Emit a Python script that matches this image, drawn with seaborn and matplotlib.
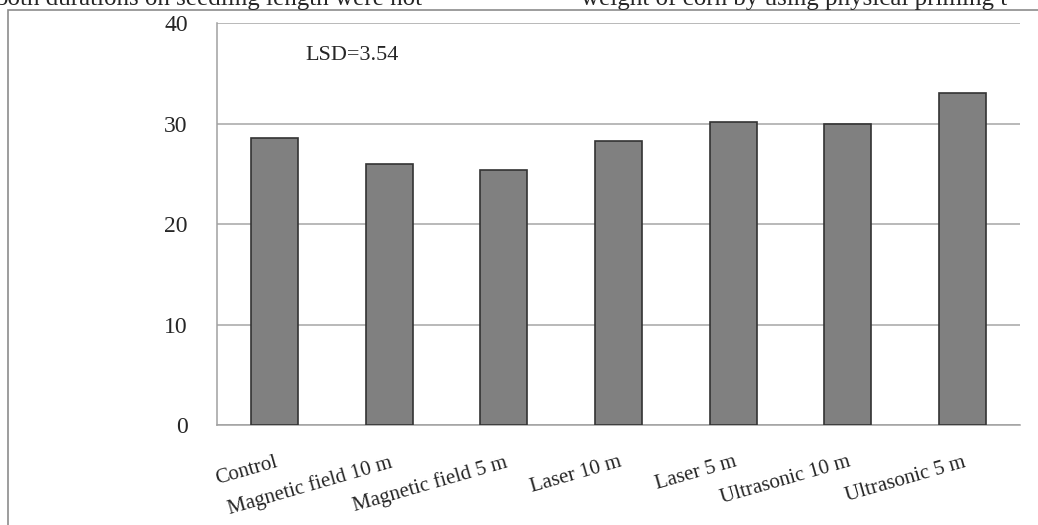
import matplotlib
matplotlib.use('Agg')
import matplotlib.pyplot as plt
import seaborn as sns
import pandas as pd
from matplotlib.patches import Rectangle

# dados
tratamentos = ["Control", "Magnetic field 10 m", "Magnetic field 5 m", "Laser 10 m",
               "Laser 5 m", "Ultrasonic 10 m", "Ultrasonic 5 m"]
valores = [28.6, 26.0, 25.4, 28.3, 30.2, 30.0, 33.0]
texto_lsd = "LSD=3.54"
y_ticks = [0, 10, 20, 30, 40]

sns.set_style("white")
plt.rcParams['font.family'] = ['Liberation Serif', 'DejaVu Serif']

df = pd.DataFrame({"tratamento": tratamentos, "valor": valores})

fig = plt.figure(figsize=(10.38, 5.25), dpi=100)
ax = fig.add_axes([0.209, 0.1905, 0.7737, 0.7655])

sns.barplot(data=df, x="tratamento", y="valor", color="#808080", saturation=1,
            width=0.41, edgecolor="#333333", linewidth=1.2, ax=ax, zorder=3)

ax.set_ylim(0, 40)
ax.set_xlim(-0.5, len(tratamentos) - 0.5)
ax.set_yticks(y_ticks)
ax.set_yticklabels([str(v) for v in y_ticks], fontsize=17)
ax.yaxis.grid(True, color="#a6a6a6", linewidth=1.1, zorder=0)
ax.set_axisbelow(True)
ax.set_xlabel("")
ax.set_ylabel("")

# rotulos inclinados estilo Excel
ax.set_xticks(range(len(tratamentos)))
ax.set_xticklabels(tratamentos, fontsize=15, rotation=16, ha="right",
                   rotation_mode="anchor")
ax.tick_params(axis="x", which="major", length=0, pad=20)
ax.set_xticks([i - 0.5 for i in range(len(tratamentos) + 1)], minor=True)
ax.tick_params(axis="x", which="minor", length=6, color="#a0a0a0", direction="out")
ax.tick_params(axis="y", length=7, color="#a0a0a0", direction="out", pad=14)

for lado in ["top", "right"]:
    ax.spines[lado].set_visible(False)
for lado in ["left", "bottom"]:
    ax.spines[lado].set_color("#a0a0a0")
    ax.spines[lado].set_linewidth(1.1)

ax.text(0.27, 36.8, texto_lsd, fontsize=16, va="center", ha="left")

# moldura do grafico e texto cortado da pagina (cortado como no original)
fig.patches.append(Rectangle((8 / 1038, -0.1), 1.2, 1 - 10 / 525 + 0.1,
                             transform=fig.transFigure, fill=False,
                             edgecolor="#8c8c8c", linewidth=1.2))
fig.text(-0.005, 1 - 5 / 525, "both durations on seedling length were not",
         fontsize=18, va="baseline", ha="left")
fig.text(581 / 1038, 1 - 5 / 525, "weight of corn by using physical priming t",
         fontsize=18, va="baseline", ha="left")

plt.savefig("out.png", dpi=100)
plt.close()
